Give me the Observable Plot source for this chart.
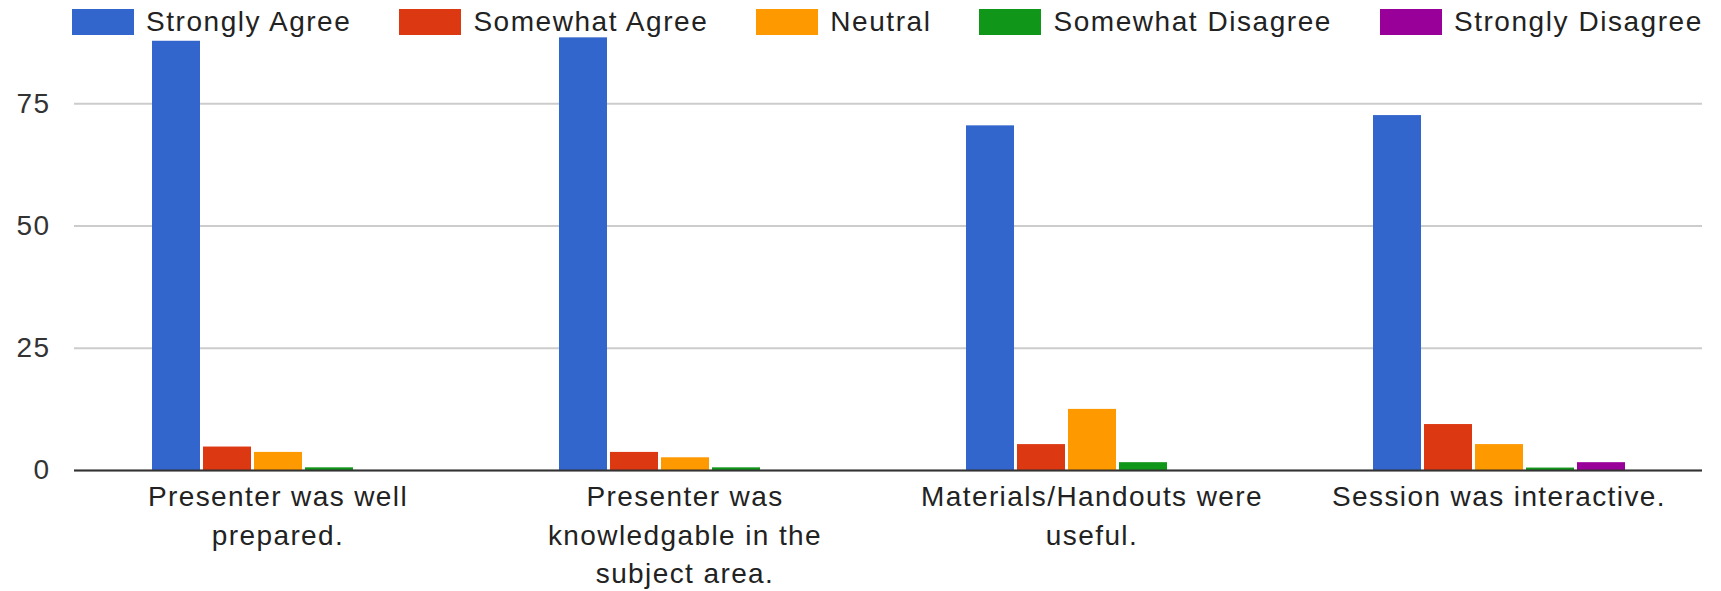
<!DOCTYPE html>
<html>
<head>
<meta charset="utf-8">
<script src="https://cdn.jsdelivr.net/npm/d3@7"></script>
<script src="https://cdn.jsdelivr.net/npm/@observablehq/plot@0.6"></script>
<style>
  html, body { margin: 0; padding: 0; background: #fff; }
  body { width: 1721px; height: 591px; overflow: hidden; font-family: "Liberation Sans", Arial, sans-serif; }
  #legend { height: 37px; display: flex; align-items: flex-start; padding-left: 72px; box-sizing: border-box; }
  #legend .item { display: flex; align-items: flex-start; margin-right: 48px; }
  #legend .sw { width: 62px; height: 26px; margin-top: 9px; margin-right: 12px; }
  #legend .lbl { font-size: 28px; letter-spacing: 1.55px; color: #222; line-height: 32px; margin-top: 6px; white-space: nowrap; }
  #chart svg { display: block; }
</style>
</head>
<body>
<div id="legend"></div>
<div id="chart"></div>
<script>
// ---- data ----
const categories = [
  "Presenter was well prepared.",
  "Presenter was knowledgable in the subject area.",
  "Materials/Handouts were useful.",
  "Session was interactive."
];
const categoryLabels = [
  "Presenter was well\nprepared.",
  "Presenter was\nknowledgable in the\nsubject area.",
  "Materials/Handouts were\nuseful.",
  "Session was interactive."
];
const series = ["Strongly Agree", "Somewhat Agree", "Neutral", "Somewhat Disagree", "Strongly Disagree"];
const seriesColors = ["#3366cc", "#dc3912", "#ff9900", "#109618", "#990099"];
const stronglyAgree    = [87.8, 88.5, 70.5, 72.6];
const somewhatAgree    = [4.8, 3.7, 5.3, 9.4];
const neutral          = [3.7, 2.6, 12.5, 5.3];
const somewhatDisagree = [0.55, 0.55, 1.6, 0.5];
const stronglyDisagree = [0, 0, 0, 1.6];
const yTicks = [0, 25, 50, 75];

// ---- table ----
const seriesValues = [stronglyAgree, somewhatAgree, neutral, somewhatDisagree, stronglyDisagree];
const data = categories.flatMap((c, i) =>
  series.map((s, j) => ({category: c, series: s, value: seriesValues[j][i]}))
);
const labelOf = new Map(categories.map((c, i) => [c, categoryLabels[i]]));

// ---- legend ----
const legend = document.getElementById("legend");
series.forEach((s, j) => {
  const item = document.createElement("div");
  item.className = "item";
  const sw = document.createElement("div");
  sw.className = "sw";
  sw.style.background = seriesColors[j];
  const lbl = document.createElement("div");
  lbl.className = "lbl";
  lbl.textContent = s;
  item.append(sw, lbl);
  legend.append(item);
});

// ---- chart ----
const chart = Plot.plot({
  width: 1721,
  height: 554,
  marginTop: 0,
  marginBottom: 121,
  marginLeft: 73,
  marginRight: 18,
  style: {
    fontFamily: "'Liberation Sans', Arial, sans-serif",
    fontSize: "28px",
    color: "#222",
    background: "#fff",
    letterSpacing: "1.4px",
    overflow: "visible"
  },
  fx: {domain: categories, padding: 0, label: null},
  x: {domain: series, paddingInner: 0.065, paddingOuter: 1.5, axis: null},
  y: {domain: [0, 88.57], label: null},
  color: {domain: series, range: seriesColors},
  marks: [
    Plot.gridY(yTicks, {stroke: "#cccccc", strokeOpacity: 1, strokeWidth: 2}),
    Plot.axisY(yTicks, {tickSize: 0, tickPadding: 24, label: null, fill: "#333"}),
    Plot.barY(data, {fx: "category", x: "series", y: "value", fill: "series"}),
    Plot.ruleY([0], {stroke: "#333", strokeWidth: 2}),
    Plot.axisFx({anchor: "bottom", tickSize: 0, tickPadding: 8, lineHeight: 1.38, label: null, tickFormat: d => labelOf.get(d), fill: "#222"})
  ]
});
document.getElementById("chart").append(chart);
</script>
</body>
</html>
